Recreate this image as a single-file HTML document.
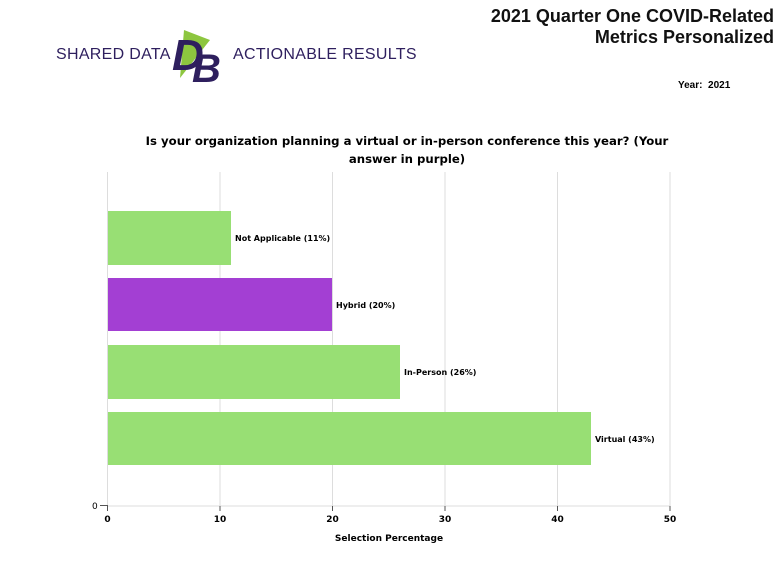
<!DOCTYPE html>
<html><head><style>
body{margin:0;width:780px;height:572px;background:#fff;font-family:"Liberation Sans",sans-serif;position:relative;overflow:hidden}
.a{position:absolute}
</style></head><body>
<div class="a" style="left:56px;top:46px;font-size:16px;color:#2e1f5e;letter-spacing:0.3px">SHARED DATA</div>
<div class="a" style="left:233px;top:46px;font-size:16px;color:#2e1f5e;letter-spacing:0.3px">ACTIONABLE RESULTS</div>
<svg class="a" style="left:168px;top:26px" width="64" height="56">
<polygon points="16,4 42,14 12,52" fill="#8dc63f"/>
<text x="4" y="44" font-size="44" font-weight="bold" font-style="italic" fill="#2e1f5e" font-family="Liberation Sans">D</text>
<text x="24" y="56" font-size="40" font-weight="bold" font-style="italic" fill="#2e1f5e" font-family="Liberation Sans">B</text>
</svg>
<div class="a" style="right:6px;top:6px;font-size:18px;font-weight:bold;text-align:right;line-height:21px;color:#111">2021 Quarter One COVID-Related<br>Metrics Personalized</div>
<div class="a" style="left:678px;top:80px;font-size:10px;font-weight:bold">Year:&nbsp;&nbsp;2021</div>
<div class="a" style="left:107px;top:132px;width:600px;text-align:center;font-size:11.7px;font-weight:bold;line-height:18px;white-space:nowrap;font-family:'DejaVu Sans',sans-serif">Is your organization planning a virtual or in-person conference this year? (Your<br>answer in purple)</div>
<svg class="a" style="left:0;top:0" width="780" height="572" font-family="DejaVu Sans" font-size="8" font-weight="bold">
<g stroke="#ddd" stroke-width="1">
<line x1="107.5" y1="172" x2="107.5" y2="506"/><line x1="220" y1="172" x2="220" y2="506"/><line x1="332.5" y1="172" x2="332.5" y2="506"/><line x1="445" y1="172" x2="445" y2="506"/><line x1="557.5" y1="172" x2="557.5" y2="506"/><line x1="670" y1="172" x2="670" y2="506"/>
<line x1="107" y1="506" x2="670" y2="506"/>
</g>
<line x1="100" y1="505.5" x2="108" y2="505.5" stroke="#555"/>
<g stroke="#555"><line x1="107.5" y1="506" x2="107.5" y2="511"/><line x1="220" y1="506" x2="220" y2="511"/><line x1="332.5" y1="506" x2="332.5" y2="511"/><line x1="445" y1="506" x2="445" y2="511"/><line x1="557.5" y1="506" x2="557.5" y2="511"/><line x1="670" y1="506" x2="670" y2="511"/></g>
<rect x="108" y="211" width="123" height="54" fill="#98df74"/>
<rect x="108" y="278" width="224" height="53" fill="#a33fd3"/>
<rect x="108" y="345" width="292" height="54" fill="#98df74"/>
<rect x="108" y="412" width="483" height="53" fill="#98df74"/>
<text x="235" y="241">Not Applicable (11%)</text>
<text x="336" y="308">Hybrid (20%)</text>
<text x="404" y="375">In-Person (26%)</text>
<text x="595" y="442">Virtual (43%)</text>
<text x="92" y="509" font-weight="normal" font-size="9">0</text>
<g text-anchor="middle" font-size="9"><text x="107.5" y="522">0</text><text x="220" y="522">10</text><text x="332.5" y="522">20</text><text x="445" y="522">30</text><text x="557.5" y="522">40</text><text x="670" y="522">50</text></g>
<text x="389" y="541" text-anchor="middle" font-size="9">Selection Percentage</text>
</svg>
</body></html>
